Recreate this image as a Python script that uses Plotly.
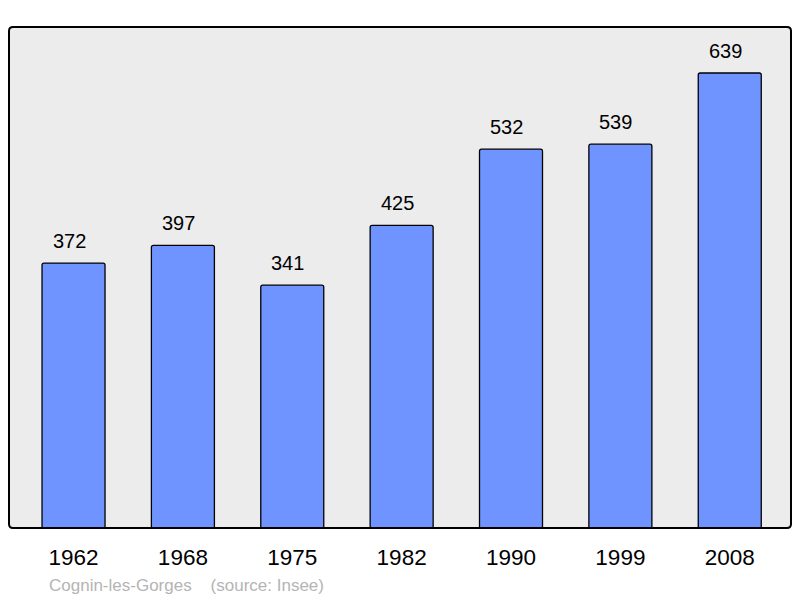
import plotly.graph_objects as go

years = ["1962", "1968", "1975", "1982", "1990", "1999", "2008"]
population = [372, 397, 341, 425, 532, 539, 639]
footer = "Cognin-les-Gorges    (source: Insee)"

xs = list(range(len(years)))
FONT = "Liberation Sans, Arial"

fig = go.Figure()
fig.add_trace(go.Bar(
    x=xs, y=population, width=0.576,
    marker=dict(color="#7094ff", line=dict(color="#000000", width=1.3), cornerradius=2),
    hoverinfo="skip",
))

for x, v in zip(xs, population):
    fig.add_annotation(x=x, y=v, text=str(v), showarrow=False, yanchor="bottom",
                       yshift=9, xshift=-4.5, font=dict(family=FONT, size=20, color="#000"))

L, R, T, B = 9, 9, 27, 70
W, H = 800, 598
pw, ph = W - L - R, H - T - B
r = 4
rx, ry = r / pw, r / ph
path = (f"M {rx},1 L {1-rx},1 Q 1,1 1,{1-ry} L 1,{ry} "
        f"Q 1,0 {1-rx},0 L {rx},0 Q 0,0 0,{ry} "
        f"L 0,{1-ry} Q 0,1 {rx},1 Z")
fig.add_shape(type="path", path=path, xref="paper", yref="paper",
              line=dict(color="#000", width=2), layer="above")

fig.add_annotation(xref="paper", yref="paper", text=footer, showarrow=False,
                   x=(47 - L) / pw, y=(H - B - 585) / ph,
                   xanchor="left", yanchor="middle",
                   font=dict(family=FONT, size=17, color="#b4b4b4"))

fig.update_layout(
    width=W, height=H,
    margin=dict(l=L, r=R, t=T, b=B),
    paper_bgcolor="#ffffff", plot_bgcolor="#ececec",
    showlegend=False,
    xaxis=dict(range=[-0.59, 6.56], tickmode="array", tickvals=xs, ticktext=years,
               showgrid=False, zeroline=False, showline=False, ticks="",
               ticklabelstandoff=13,
               tickfont=dict(family=FONT, size=22.5, color="#000")),
    yaxis=dict(range=[0, 703.6], showgrid=False, zeroline=False, showticklabels=False,
               showline=False),
)

fig.write_html("out.html", config={"displayModeBar": False},
               post_script="document.body.style.margin='0';document.body.style.padding='0';")
